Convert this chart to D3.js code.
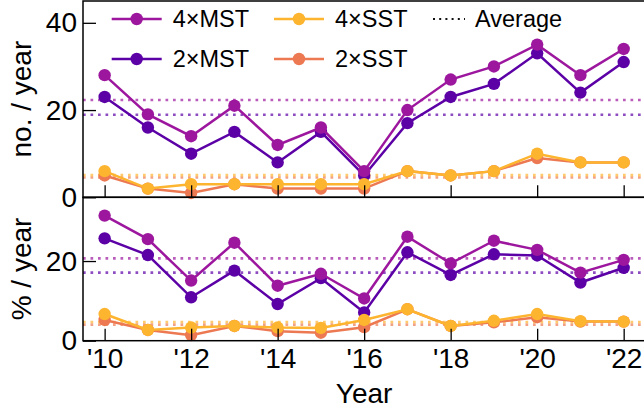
<!DOCTYPE html>
<html><head><meta charset="utf-8">
<script src="https://cdn.jsdelivr.net/npm/d3@7"></script>
<style>
html,body{margin:0;padding:0;background:#fff;}
svg{display:block;font-family:"Liberation Sans",Arial,Helvetica,sans-serif;}
</style></head>
<body>
<svg id="chart" width="644" height="411"></svg>
<script>
const years = [2010,2011,2012,2013,2014,2015,2016,2017,2018,2019,2020,2021,2022];
const seriesNames = ["2×MST","2×SST","4×MST","4×SST"];
const seriesColors = ["#5c01a6","#ed7953","#9c179e","#fdb42f"];
// top panel: number per year
const countMST4 = [28,19,14,21,12,16,6,20,27,30,35,28,34];
const countMST2 = [23,16,10,15,8,15,5,17,23,26,33,24,31];
const countSST4 = [6,2,3,3,3,3,3,6,5,6,10,8,8];
const countSST2 = [5,2,1,3,2,2,2,6,5,6,9,8,8];
// bottom panel: percent per year
const pctMST4 = [31.4,25.5,15.1,24.6,13.8,16.8,10.6,26.1,19.4,25.1,22.8,17.1,20.3];
const pctMST2 = [25.7,21.5,10.9,17.6,9.2,15.7,7.1,22.2,16.5,21.7,21.4,14.6,18.3];
const pctSST4 = [6.7,2.7,3.3,3.7,3.3,3.2,5.2,7.9,3.7,5.0,6.7,4.9,4.8];
const pctSST2 = [5.2,2.7,1.4,3.7,2.4,2.0,3.4,7.9,3.7,4.6,5.9,4.8,4.8];
const xTicks = [2010,2012,2014,2016,2018,2020,2022];
const yTicksTop = [0,20,40];
const yTicksBottom = [0,20];
const legendOrder = ["4×MST","2×MST","4×SST","2×SST"];

const svg = d3.select("#chart");
const X0 = 83, X1 = 645.3;
const x = d3.scaleLinear().domain([2009.5,2022.5]).range([X0,X1]);

const panels = [
  {data:[countMST2,countSST2,countMST4,countSST4], y:d3.scaleLinear().domain([0,45]).range([197.3,1]), ticks:yTicksTop, label:"no. / year", labels:false},
  {data:[pctMST2,pctSST2,pctMST4,pctSST4], y:d3.scaleLinear().domain([0,36]).range([340.7,197.3]), ticks:yTicksBottom, label:"% / year", labels:true}
];

const FS = 28;
panels.forEach(p => {
  const g = svg.append("g");
  const [yb, yt] = p.y.range();
  // average lines
  p.data.forEach((d,i) => {
    const m = d3.mean(d);
    g.append("line").attr("x1",X0).attr("x2",X1).attr("y1",p.y(m)).attr("y2",p.y(m))
      .attr("stroke",seriesColors[i]).attr("stroke-opacity",0.7).attr("stroke-width",2.7)
      .attr("stroke-dasharray","2.7,4.8");
  });
  // series
  p.data.forEach((d,i) => {
    const line = d3.line().x((v,j)=>x(years[j])).y(v=>p.y(v));
    g.append("path").attr("d",line(d)).attr("fill","none").attr("stroke",seriesColors[i]).attr("stroke-width",2.5);
    g.selectAll(null).data(d).enter().append("circle")
      .attr("cx",(v,j)=>x(years[j])).attr("cy",v=>p.y(v)).attr("r",6.2).attr("fill",seriesColors[i]);
  });
  // axes
  const ay = g.append("g").attr("transform",`translate(${X0},0)`)
    .call(d3.axisLeft(p.y).tickValues(p.ticks).tickSize(-13).tickPadding(6).tickFormat(d3.format("d")));
  ay.select(".domain").remove();
  ay.selectAll("line").attr("stroke","#000").attr("stroke-width",1.3);
  ay.selectAll("text").attr("font-size",FS).attr("fill","#000").attr("font-family",null);
  const ax = g.append("g").attr("transform",`translate(0,${yb})`)
    .call(d3.axisBottom(x).tickValues(xTicks).tickSize(-12).tickPadding(7)
      .tickFormat(p.labels ? (d=>"'"+String(d).slice(2)) : ""));
  ax.select(".domain").remove();
  ax.selectAll("line").attr("stroke","#000").attr("stroke-width",1.3);
  ax.selectAll("text").attr("font-size",FS).attr("fill","#000").attr("font-family",null);
  // frame
  g.append("rect").attr("x",X0).attr("y",yt).attr("width",X1-X0).attr("height",yb-yt)
    .attr("fill","none").attr("stroke","#000").attr("stroke-width",1.5);
  // y label
  g.append("text").attr("transform",`translate(31,${(yb+yt)/2}) rotate(-90)`)
    .attr("text-anchor","middle").attr("font-size",FS).text(p.label);
});

// x label
svg.append("text").attr("x",(X0+X1)/2).attr("y",403).attr("text-anchor","middle").attr("font-size",FS).text("Year");

// legend
const lg = svg.append("g");
const colX = [111.7, 274];
const rowY = [19, 59];
legendOrder.forEach((name,k) => {
  const i = seriesNames.indexOf(name);
  const cx = colX[Math.floor(k/2)], cy = rowY[k%2];
  lg.append("line").attr("x1",cx).attr("x2",cx+50).attr("y1",cy).attr("y2",cy)
    .attr("stroke",seriesColors[i]).attr("stroke-width",2.5);
  lg.append("circle").attr("cx",cx+25).attr("cy",cy).attr("r",6.2).attr("fill",seriesColors[i]);
  lg.append("text").attr("x",cx+61).attr("y",cy).attr("dy","0.35em").attr("font-size",23.5).text(name);
});
lg.append("line").attr("x1",433).attr("x2",465).attr("y1",19).attr("y2",19)
  .attr("stroke","#111").attr("stroke-width",2).attr("stroke-dasharray","2,4.2");
lg.append("text").attr("x",475).attr("y",19).attr("dy","0.35em").attr("font-size",23.5).text("Average");
</script>
</body></html>
